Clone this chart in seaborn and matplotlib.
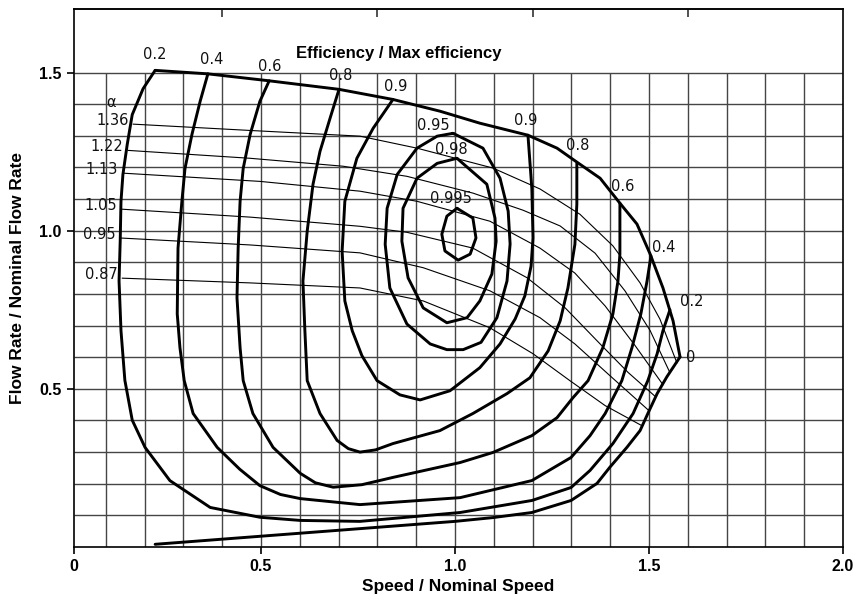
import numpy as np
import pandas as pd
import matplotlib
matplotlib.use('Agg')
import matplotlib.pyplot as plt
import seaborn as sns

OUTPUT_FILE = 'out.png'

# envelope, upper edge (from the 0.2 corner to the zero tip)
top_x = [0.227, 0.363, 0.521, 0.701, 0.840, 0.961, 1.064, 1.188, 1.263, 1.314,
         1.374, 1.425, 1.469, 1.503, 1.536, 1.562, 1.580]
top_y = [1.507, 1.496, 1.474, 1.447, 1.415, 1.378, 1.340, 1.302, 1.261, 1.217,
         1.166, 1.087, 1.021, 0.926, 0.819, 0.715, 0.601]
# envelope, lower edge (efficiency 0)
zero_x = [1.580, 1.546, 1.521, 1.497, 1.477, 1.443, 1.399, 1.366, 1.299, 1.198,
          1.098, 1.000, 0.227]
zero_y = [0.601, 0.538, 0.485, 0.422, 0.368, 0.315, 0.252, 0.201, 0.147, 0.109,
          0.093, 0.081, 0.0085]

eff20_x = [0.227, 0.196, 0.168, 0.155, 0.144, 0.139, 0.137, 0.134, 0.139, 0.149,
           0.168, 0.201, 0.265, 0.369, 0.497, 0.601, 0.755, 1.013, 1.198, 1.299,
           1.348, 1.407, 1.459, 1.497, 1.521, 1.536, 1.554]
eff20_y = [1.507, 1.449, 1.367, 1.272, 1.178, 1.093, 0.968, 0.841, 0.684, 0.527,
           0.401, 0.315, 0.210, 0.125, 0.094, 0.084, 0.081, 0.109, 0.147, 0.188,
           0.242, 0.327, 0.422, 0.526, 0.611, 0.684, 0.750]

eff40_x = [0.363, 0.343, 0.322, 0.304, 0.296, 0.286, 0.284, 0.291, 0.302, 0.325,
           0.387, 0.445, 0.497, 0.550, 0.601, 0.755, 1.013, 1.198, 1.299, 1.348,
           1.387, 1.430, 1.456, 1.479, 1.495, 1.505]
eff40_y = [1.496, 1.409, 1.305, 1.197, 1.093, 0.945, 0.737, 0.630, 0.526, 0.422,
           0.315, 0.246, 0.194, 0.166, 0.153, 0.134, 0.156, 0.210, 0.283, 0.352,
           0.422, 0.526, 0.630, 0.737, 0.841, 0.920]

eff60_x = [0.521, 0.497, 0.472, 0.454, 0.446, 0.441, 0.438, 0.446, 0.454, 0.479,
           0.531, 0.601, 0.640, 0.686, 0.760, 0.840, 1.013, 1.098, 1.198, 1.263,
           1.304, 1.343, 1.381, 1.407, 1.420, 1.425, 1.425]
eff60_y = [1.474, 1.409, 1.305, 1.197, 1.093, 0.945, 0.788, 0.630, 0.526, 0.422,
           0.315, 0.233, 0.203, 0.189, 0.197, 0.220, 0.267, 0.299, 0.352, 0.409,
           0.472, 0.526, 0.630, 0.737, 0.841, 0.926, 1.087]

eff80_x = [0.701, 0.678, 0.652, 0.634, 0.619, 0.608, 0.613, 0.619, 0.652, 0.696,
           0.725, 0.755, 0.795, 0.840, 0.961, 1.046, 1.134, 1.193, 1.240, 1.271,
           1.291, 1.309, 1.314, 1.314]
eff80_y = [1.447, 1.356, 1.251, 1.147, 0.999, 0.841, 0.684, 0.526, 0.422, 0.337,
           0.311, 0.300, 0.307, 0.327, 0.368, 0.422, 0.485, 0.535, 0.620, 0.715,
           0.819, 0.957, 1.084, 1.213]

eff90_x = [0.840, 0.789, 0.747, 0.716, 0.709, 0.716, 0.735, 0.760, 0.799, 0.858,
           0.910, 0.987, 1.064, 1.116, 1.155, 1.180, 1.196, 1.201, 1.198, 1.188]
eff90_y = [1.415, 1.324, 1.229, 1.093, 0.935, 0.778, 0.684, 0.605, 0.526, 0.481,
           0.465, 0.494, 0.567, 0.642, 0.721, 0.794, 0.888, 0.977, 1.134, 1.302]

eff95_x = [0.995, 1.072, 1.116, 1.137, 1.142, 1.134, 1.108, 1.067, 1.021, 0.979,
           0.936, 0.876, 0.832, 0.820, 0.825, 0.851, 0.902, 0.954, 0.995]
eff95_y = [1.308, 1.261, 1.166, 1.062, 0.958, 0.841, 0.725, 0.647, 0.624, 0.624,
           0.642, 0.705, 0.819, 0.957, 1.071, 1.178, 1.261, 1.299, 1.308]

eff98_x = [1.005, 1.082, 1.103, 1.106, 1.095, 1.064, 1.031, 0.979, 0.918, 0.879,
           0.863, 0.866, 0.902, 0.954, 1.005]
eff98_y = [1.229, 1.147, 1.040, 0.967, 0.863, 0.778, 0.725, 0.709, 0.756, 0.851,
           0.967, 1.071, 1.166, 1.213, 1.229]

eff995_x = [1.005, 1.046, 1.054, 1.039, 1.008, 0.974, 0.966, 0.979, 1.005]
eff995_y = [1.071, 1.040, 0.977, 0.926, 0.907, 0.936, 0.989, 1.046, 1.071]

# alpha lines (thin)
a136_x = [0.170, 0.472, 0.755, 0.902, 1.098, 1.219, 1.322, 1.407, 1.477, 1.528, 1.572]
a136_y = [1.337, 1.317, 1.299, 1.261, 1.198, 1.132, 1.052, 0.952, 0.835, 0.721, 0.582]
a122_x = [0.157, 0.472, 0.711, 0.876, 1.046, 1.175, 1.271, 1.361, 1.438, 1.503, 1.554]
a122_y = [1.254, 1.229, 1.204, 1.172, 1.119, 1.065, 1.015, 0.929, 0.810, 0.684, 0.551]
a113_x = [0.144, 0.497, 0.755, 0.902, 1.090, 1.219, 1.309, 1.387, 1.464, 1.536]
a113_y = [1.182, 1.156, 1.125, 1.093, 1.030, 0.945, 0.866, 0.762, 0.637, 0.513]
a105_x = [0.142, 0.472, 0.755, 0.876, 1.046, 1.186, 1.284, 1.374, 1.446, 1.517]
a105_y = [1.068, 1.043, 1.014, 0.995, 0.945, 0.851, 0.756, 0.642, 0.552, 0.475]
a095_x = [0.137, 0.472, 0.755, 0.918, 1.090, 1.219, 1.309, 1.399, 1.500]
a095_y = [0.977, 0.955, 0.930, 0.883, 0.810, 0.725, 0.642, 0.542, 0.431]
a087_x = [0.142, 0.472, 0.755, 0.918, 1.090, 1.201, 1.296, 1.387, 1.481]
a087_y = [0.850, 0.835, 0.819, 0.778, 0.693, 0.611, 0.526, 0.447, 0.384]
alpha_labels = ['1.36', '1.22', '1.13', '1.05', '0.95', '0.87']

eff_labels = ['0.2', '0.4', '0.6', '0.8', '0.9', '0.95', '0.98', '0.995',
              '0.9', '0.8', '0.6', '0.4', '0.2', '0']
eff_label_x = [0.227, 0.374, 0.523, 0.706, 0.848, 0.943, 0.990, 0.990,
               1.183, 1.317, 1.433, 1.539, 1.611, 1.608]
eff_label_y = [1.557, 1.541, 1.520, 1.491, 1.456, 1.333, 1.258, 1.103,
               1.349, 1.270, 1.141, 0.948, 0.775, 0.598]


def to_frame(curves):
    rows = []
    for name, (xs, ys) in curves.items():
        for i, (x, y) in enumerate(zip(xs, ys)):
            rows.append((name, i, x, y))
    return pd.DataFrame(rows, columns=['curve', 'order', 'speed', 'flow'])


thick = to_frame({
    'top': (top_x, top_y), 'zero': (zero_x, zero_y),
    '0.2': (eff20_x, eff20_y), '0.4': (eff40_x, eff40_y),
    '0.6': (eff60_x, eff60_y), '0.8': (eff80_x, eff80_y),
    '0.9': (eff90_x, eff90_y), '0.95': (eff95_x, eff95_y),
    '0.98': (eff98_x, eff98_y), '0.995': (eff995_x, eff995_y),
})
alpha_curves = [(a136_x, a136_y), (a122_x, a122_y), (a113_x, a113_y),
                (a105_x, a105_y), (a095_x, a095_y), (a087_x, a087_y)]
thin = to_frame(dict(zip(alpha_labels, alpha_curves)))

sns.set_theme(style='white')
plt.rcParams['font.family'] = ['Liberation Sans', 'DejaVu Sans']
plt.rcParams['text.color'] = 'black'
plt.rcParams['axes.labelcolor'] = 'black'
plt.rcParams['xtick.color'] = 'black'
plt.rcParams['ytick.color'] = 'black'

fig = plt.figure(figsize=(8.54, 5.98), dpi=100)
ax = fig.add_axes([0.0867, 0.0853, 0.9004, 0.8991])
x0 = 0.018
ax.set_xlim(x0, 2.0)
ax.set_ylim(0, 1.7)

# chart grid: verticals stop at 1.5
ax.vlines(np.arange(1, 20) / 10, 0, 1.5, color='#454545', lw=1.0, zorder=0)
ax.hlines(np.arange(1, 16) / 10, x0, 2.0, color='#454545', lw=1.0, zorder=0)

sns.lineplot(data=thin, x='speed', y='flow', units='curve', estimator=None,
             sort=False, color='black', linewidth=0.8, ax=ax, legend=False)
sns.lineplot(data=thick, x='speed', y='flow', units='curve', estimator=None,
             sort=False, color='black', linewidth=2.1, ax=ax, legend=False)
for line in ax.get_lines():
    line.set_solid_joinstyle('round')
    line.set_solid_capstyle('round')

for t, x, y in zip(eff_labels, eff_label_x, eff_label_y):
    ax.text(x, y, t, ha='center', va='center', fontsize=10.5,
            family='DejaVu Sans', color='#111111')
for t, (xs, ys) in zip(alpha_labels, alpha_curves):
    ax.text(xs[0] - 0.012, ys[0] + 0.012, t, ha='right', va='center',
            fontsize=10.5, family='DejaVu Sans', color='#111111')
ax.text(0.113, 1.405, 'α', ha='center', va='center', fontsize=10.5,
        family='DejaVu Sans', color='#111111')

ax.text(0.854, 1.561, 'Efficiency / Max efficiency', ha='center', va='center',
        fontsize=12, fontweight='bold')

ax.set_xticks([x0, 0.5, 1.0, 1.5, 2.0])
ax.set_xticklabels(['0', '0.5', '1.0', '1.5', '2.0'])
ax.set_yticks([0.5, 1.0, 1.5])
ax.set_yticklabels(['0.5', '1.0', '1.5'])
ax.tick_params(axis='both', direction='out', length=5, width=1.2,
               labelsize=11.5, color='black', pad=4, bottom=True, left=True)
for lab in ax.get_xticklabels() + ax.get_yticklabels():
    lab.set_fontweight('bold')

sec = ax.secondary_xaxis('top')
sec.set_xticks([0.4, 0.8, 1.2, 1.6])
sec.set_xticklabels([])
sec.tick_params(direction='in', length=6, width=1.2, color='#333333')

ax.set_xlabel('Speed / Nominal Speed', fontsize=12.5, fontweight='bold', labelpad=3)
ax.set_ylabel('Flow Rate / Nominal Flow Rate', fontsize=12.5, fontweight='bold', labelpad=10)

for s in ax.spines.values():
    s.set_color('black')
    s.set_linewidth(1.2)
for s in sec.spines.values():
    s.set_linewidth(1.2)

plt.savefig(OUTPUT_FILE, dpi=100)
